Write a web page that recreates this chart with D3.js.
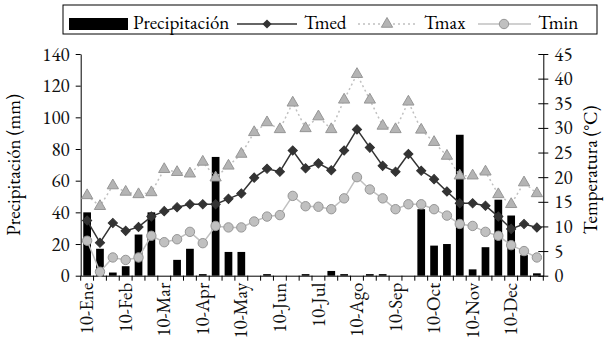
<!DOCTYPE html>
<html>
<head>
<meta charset="utf-8">
<script src="https://cdn.jsdelivr.net/npm/d3@7"></script>
<style>
  body { margin: 0; background: #fff; }
</style>
</head>
<body>
<div id="chart"></div>
<script>
// Dekad labels (3 per month) and monthly tick labels
const months = ["Ene", "Feb", "Mar", "Apr", "May", "Jun", "Jul", "Ago", "Sep", "Oct", "Nov", "Dec"];
const dekads = months.flatMap(m => ["10-" + m, "20-" + m, "30-" + m]);

// Series
const precip = [40, 17, 2, 6, 26, 40, 0, 10, 17, 1, 75, 15, 15, 0, 1, 0, 0, 1,
                0, 3, 1, 0, 1, 1, 0, 0, 42, 19, 20, 89, 4, 18, 48, 38, 13, 1.5];
const tmed = [11.2, 6.7, 10.7, 9.1, 9.9, 12.0, 13.1, 13.9, 14.5, 14.5, 14.5, 15.6,
              16.7, 19.9, 21.7, 21.1, 25.4, 21.8, 22.8, 21.4, 25.4, 29.7, 26.0, 22.3,
              21.1, 24.7, 21.3, 19.6, 17.1, 14.7, 14.7, 14.2, 12.0, 9.5, 10.5, 9.8];
const tmax = [16.3, 14.1, 18.3, 17.0, 16.5, 16.9, 21.6, 21.0, 20.7, 23.1, 19.9, 22.3,
              24.7, 29.1, 31.1, 29.7, 35.1, 29.9, 32.3, 29.7, 35.7, 40.9, 35.7, 30.4,
              29.7, 35.3, 29.6, 27.1, 24.3, 20.3, 20.3, 21.1, 16.5, 14.5, 18.9, 16.7];
const tmin = [7.1, 0.8, 3.7, 3.2, 3.7, 8.1, 6.8, 7.4, 8.9, 6.6, 10.1, 9.8,
              9.8, 11.0, 12.0, 12.3, 16.2, 14.1, 14.0, 13.5, 15.7, 20.0, 17.5, 15.7,
              13.5, 14.5, 14.5, 13.5, 12.2, 10.5, 10.1, 8.9, 8.1, 6.2, 5.0, 3.7];
const precipTicks = [0, 20, 40, 60, 80, 100, 120, 140];
const tempTicks = [0, 5, 10, 15, 20, 25, 30, 35, 40, 45];

const W = 606, H = 344;
const plot = { left: 80.7, right: 543.3, top: 54, bottom: 275.7 };
const FONT = '"EB Garamond", "Liberation Serif", serif';
const fontSize = 19;

const svg = d3.select("#chart").append("svg")
    .attr("width", W)
    .attr("height", H);

const x = d3.scaleBand().domain(dekads).range([plot.left, plot.right]);
const yP = d3.scaleLinear().domain([0, 140]).range([plot.bottom, plot.top]);
const yT = d3.scaleLinear().domain([0, 45]).range([plot.bottom, plot.top]);
const cx = d => x(d) + x.bandwidth() / 2;

// Bars
const barW = x.bandwidth() * 0.6;
svg.append("g").selectAll("rect")
    .data(precip)
    .join("rect")
    .attr("x", (d, i) => cx(dekads[i]) - barW / 2)
    .attr("y", d => yP(d))
    .attr("width", barW)
    .attr("height", d => yP(0) - yP(d))
    .attr("fill", "#000");

// Axes
const leftAxis = svg.append("g")
    .attr("transform", `translate(${plot.left},0)`)
    .call(d3.axisLeft(yP).tickValues(precipTicks).tickSize(5).tickSizeOuter(0).tickPadding(6));
const rightAxis = svg.append("g")
    .attr("transform", `translate(${plot.right},0)`)
    .call(d3.axisRight(yT).tickValues(tempTicks).tickSize(5).tickSizeOuter(0).tickPadding(6));
rightAxis.selectAll(".tick line").attr("x1", -5);
const bottomAxis = svg.append("g")
    .attr("transform", `translate(0,${plot.bottom})`)
    .call(d3.axisBottom(x).tickSize(0).tickSizeOuter(0).tickFormat(d => d.startsWith("10-") ? d : ""));
bottomAxis.selectAll(".tick text")
    .attr("transform", "rotate(-90)")
    .attr("text-anchor", "end")
    .attr("x", -7)
    .attr("y", 0)
    .attr("dy", "0.32em");
// tick marks at band boundaries
bottomAxis.selectAll(".bound")
    .data(d3.range(dekads.length + 1))
    .join("line")
    .attr("x1", i => plot.left + i * x.bandwidth())
    .attr("x2", i => plot.left + i * x.bandwidth())
    .attr("y1", 0).attr("y2", 5)
    .attr("stroke", "#000");

[leftAxis, rightAxis, bottomAxis].forEach(a => {
  a.attr("font-family", null);
  a.selectAll("text").attr("font-size", fontSize).attr("fill", "#111")
    .style("font-family", FONT);
  a.selectAll("path, line").attr("stroke", "#000");
});

// Axis titles
svg.append("text")
    .attr("transform", `translate(20,${(plot.top + plot.bottom) / 2}) rotate(-90)`)
    .attr("text-anchor", "middle")
    .attr("font-size", fontSize)
    .style("font-family", FONT)
    .text("Precipitación (mm)");
svg.append("text")
    .attr("transform", `translate(597,${(plot.top + plot.bottom) / 2 + 5}) rotate(-90)`)
    .attr("text-anchor", "middle")
    .attr("font-size", fontSize)
    .style("font-family", FONT)
    .text("Temperatura (°C)");

// Lines
const line = d3.line().x((d, i) => cx(dekads[i])).y(d => yT(d));
svg.append("path").datum(tmin).attr("d", line)
    .attr("fill", "none").attr("stroke", "#c0c0c0").attr("stroke-width", 1.5);
svg.append("path").datum(tmax).attr("d", line)
    .attr("fill", "none").attr("stroke", "#c0c0c0").attr("stroke-width", 1.5)
    .attr("stroke-dasharray", "2,3");
svg.append("path").datum(tmed).attr("d", line)
    .attr("fill", "none").attr("stroke", "#333").attr("stroke-width", 1.5);

// Markers
const triangle = d3.symbol().type(d3.symbolTriangle).size(55);
const diamond = d3.symbol().type(d3.symbolSquare).size(42);

svg.append("g").selectAll("circle")
    .data(tmin).join("circle")
    .attr("cx", (d, i) => cx(dekads[i])).attr("cy", d => yT(d))
    .attr("r", 4.7).attr("fill", "#c0c0c0").attr("stroke", "#969696");
svg.append("g").selectAll("path")
    .data(tmax).join("path")
    .attr("d", triangle)
    .attr("transform", (d, i) => `translate(${cx(dekads[i])},${yT(d)})`)
    .attr("fill", "#b4b4b4").attr("stroke", "#969696");
svg.append("g").selectAll("path")
    .data(tmed).join("path")
    .attr("d", diamond)
    .attr("transform", (d, i) => `translate(${cx(dekads[i])},${yT(d)}) rotate(45)`)
    .attr("fill", "#333").attr("stroke", "#333");

// Legend
const legend = svg.append("g");
legend.append("rect")
    .attr("x", 63).attr("y", 5).attr("width", 534).attr("height", 29)
    .attr("fill", "#fff").attr("stroke", "#000");
legend.append("rect").attr("x", 69).attr("y", 18).attr("width", 59).attr("height", 12).attr("fill", "#000");

const legendItems = [
  { name: "Precipitación", x: 133 },
  { name: "Tmed", x: 304 },
  { name: "Tmax", x: 424 },
  { name: "Tmin", x: 538 }
];
legend.selectAll("text.lab").data(legendItems).join("text")
    .attr("class", "lab")
    .attr("x", d => d.x).attr("y", 29)
    .attr("font-size", fontSize)
    .style("font-family", FONT)
    .text(d => d.name);

legend.append("line").attr("x1", 237).attr("x2", 297).attr("y1", 24).attr("y2", 24)
    .attr("stroke", "#333").attr("stroke-width", 1.5);
legend.append("path").attr("d", diamond)
    .attr("transform", "translate(267,24) rotate(45)").attr("fill", "#333");

legend.append("line").attr("x1", 358).attr("x2", 415).attr("y1", 24).attr("y2", 24)
    .attr("stroke", "#c0c0c0").attr("stroke-width", 1.5).attr("stroke-dasharray", "2,3");
legend.append("path").attr("d", triangle)
    .attr("transform", "translate(387,24)").attr("fill", "#b4b4b4").attr("stroke", "#969696");

legend.append("line").attr("x1", 478).attr("x2", 531).attr("y1", 24).attr("y2", 24)
    .attr("stroke", "#c0c0c0").attr("stroke-width", 1.5);
legend.append("circle").attr("cx", 504).attr("cy", 24).attr("r", 4.7)
    .attr("fill", "#c0c0c0").attr("stroke", "#969696");
</script>
</body>
</html>
